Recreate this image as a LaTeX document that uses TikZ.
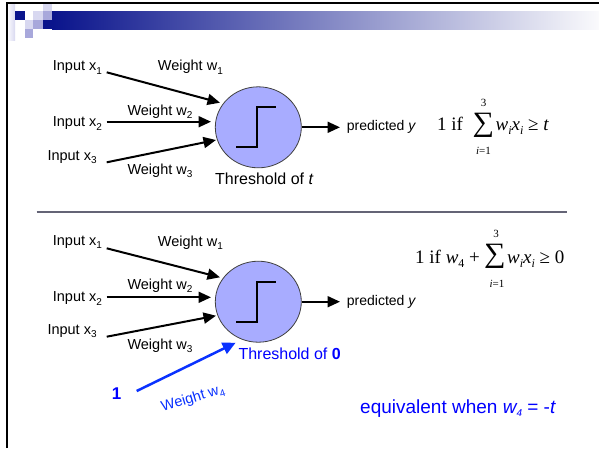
\documentclass[tikz,border=0pt]{standalone}
\usepackage{fontspec}
\setmainfont{Liberation Sans}
\newfontfamily\tnr{Liberation Serif}
\usetikzlibrary{arrows.meta,shapes.geometric}
\definecolor{dkblue}{RGB}{10,20,140}
\definecolor{endbar}{RGB}{250,250,252}
\definecolor{ltsq}{RGB}{216,216,240}
\definecolor{mdsq}{RGB}{168,168,219}
\definecolor{nfill}{RGB}{168,172,255}
\definecolor{txtblue}{RGB}{0,0,255}
\definecolor{arrblue}{RGB}{10,50,255}
\definecolor{sepgray}{RGB}{100,100,118}
\newcommand\sbs[1]{\raisebox{-3.6pt}{\fontsize{10}{10}\selectfont #1}}
\newcommand\msbs[1]{\raisebox{-4pt}{\fontsize{12}{12}\selectfont #1}}
\tikzset{
  lbl/.style={font=\fontsize{14.5}{16}\selectfont, inner sep=0pt, anchor=base west},
  thr/.style={font=\fontsize{16}{18}\selectfont, inner sep=0pt, anchor=base west},
  fml/.style={font=\tnr\fontsize{19}{21}\selectfont, inner sep=0pt, anchor=base west},
  sigma/.style={font=\tnr\fontsize{28}{30}\selectfont, inner sep=0pt, anchor=center},
  lim/.style={font=\tnr\fontsize{11}{12}\selectfont, inner sep=0pt, anchor=center},
  arr/.style={line width=2pt, -{Triangle[length=12.5pt,width=11pt]}},
  barr/.style={line width=2.5pt, draw=arrblue, -{Triangle[length=13pt,width=12pt]}},
  neuron/.style={ellipse, draw=black!75, line width=0.8pt, fill=nfill, minimum width=86pt, minimum height=81pt, inner sep=0pt},
  stepline/.style={line width=2pt},
}
\begin{document}
\begin{tikzpicture}[x=1pt,y=-1pt]
\useasboundingbox (0,0) rectangle (599,448);
\fill[white] (0,0) rectangle (599,448);
% header
\shade[left color=dkblue,right color=endbar] (52,11) rectangle (599,29);
\shade[left color=white,right color=ltsq] (7,4) rectangle (15,40);
\fill[dkblue] (15,11) rectangle (25,20);
\fill[ltsq] (33,11) rectangle (43,20);
\fill[ltsq] (43,4) rectangle (52,11);
\fill[mdsq] (43,11) rectangle (52,20);
\fill[ltsq] (25,20) rectangle (33,29);
\fill[mdsq] (33,20) rectangle (43,29);
\fill[dkblue] (43,20) rectangle (52.5,29);
\fill[mdsq] (25,29) rectangle (33,38);
\draw[line width=1.8pt] (7,448) -- (7,2.7) -- (599,2.7);
% separator
\draw[sepgray, line width=1.5pt] (36.5,212) -- (567,212);

% ---------- top neuron ----------
\node[neuron] (n1) at (258.3,127.3) {};
\draw[stepline] ([shift={(-22.3,20)}]n1.center) -- ([shift={(-1.6,20)}]n1.center)
  -- ([shift={(-1.6,-20.6)}]n1.center) -- ([shift={(17.4,-20.6)}]n1.center);
\node[lbl] (in1) at (52.7,70.7) {Input x\sbs{1}};
\node[lbl] (w1) at (157.7,70.7) {Weight w\sbs{1}};
\node[lbl] (in2) at (52.7,126.7) {Input x\sbs{2}};
\node[lbl] (w2) at (127.3,115) {Weight w\sbs{2}};
\node[lbl] (in3) at (47.3,160) {Input x\sbs{3}};
\node[lbl] (w3) at (127.3,174.3) {Weight w\sbs{3}};
\node[thr] (thr1) at (215,184) {Threshold of \textit{t}};
\node[lbl, font=\fontsize{14}{16}\selectfont] (pred1) at (346.7,130) {predicted \textit{y}};
\coordinate (s1) at (106.7,72.3);  \coordinate (e1) at (220,102.7);
\coordinate (s2) at (106.7,121.7); \coordinate (e2) at (211,121.7);
\coordinate (s3) at (106.7,162.3); \coordinate (e3) at (216,140);
\coordinate (o1) at (340,127.3);
\draw[arr] (s1) -- (e1);
\draw[arr] (s2) -- (e2);
\draw[arr] (s3) -- (e3);
\draw[arr] (n1.east) -- (o1);
% formula top
\node[fml] (fa1) at (437,130) {1 if};
\node[sigma] (sg1) at (483.5,125.5) {\scalebox{1.08}[1]{∑}};
\node[lim] (up1) at (483.5,102.5) {3};
\node[lim] (lo1) at (483.5,151) {\textit{i}=1};
\node[fml] (fb1) at (495.5,130) {\textit{w\msbs{i}x\msbs{i}} ≥ \textit{t}};

% ---------- bottom neuron ----------
\node[neuron] (n2) at (258.3,301.7) {};
\draw[stepline] ([shift={(-22.3,20)}]n2.center) -- ([shift={(-1.6,20)}]n2.center)
  -- ([shift={(-1.6,-20)}]n2.center) -- ([shift={(17.4,-20)}]n2.center);
\node[lbl] (in1b) at (52.7,245) {Input x\sbs{1}};
\node[lbl] (w1b) at (157.7,246) {Weight w\sbs{1}};
\node[lbl] (in2b) at (52.7,301.7) {Input x\sbs{2}};
\node[lbl] (w2b) at (127.3,289) {Weight w\sbs{2}};
\node[lbl] (in3b) at (47.3,334) {Input x\sbs{3}};
\node[lbl] (w3b) at (127.3,349.3) {Weight w\sbs{3}};
\node[thr, text=txtblue] (thr2) at (238.3,359.3) {Threshold of \textbf{0}};
\node[lbl, font=\fontsize{14}{16}\selectfont] (pred2) at (346.7,305) {predicted \textit{y}};
\coordinate (s1b) at (106.7,248.3); \coordinate (e1b) at (220,277.3);
\coordinate (s2b) at (106.7,297.3); \coordinate (e2b) at (211,297.3);
\coordinate (s3b) at (106.7,336.7); \coordinate (e3b) at (216,315.7);
\coordinate (o2) at (340,301.7);
\draw[arr] (s1b) -- (e1b);
\draw[arr] (s2b) -- (e2b);
\draw[arr] (s3b) -- (e3b);
\draw[arr] (n2.east) -- (o2);
% bias input
\node[lbl, font=\fontsize{17}{19}\selectfont\bfseries, text=txtblue] (one) at (111.7,399) {1};
\coordinate (s4) at (136.7,391); \coordinate (e4) at (235.7,342.7);
\draw[barr] (s4) -- (e4);
\node[font=\fontsize{14.5}{16}\selectfont, text=arrblue, inner sep=0pt, rotate=17] (w4) at (193,399) {Weight w\sbs{4}};
% formula bottom
\node[fml] (fa2) at (415,263) {1 if \textit{w}\msbs{4} +};
\node[sigma] (sg2) at (495,256.5) {\scalebox{1.08}[1]{∑}};
\node[lim] (up2) at (496,234) {3};
\node[lim] (lo2) at (497,283.5) {\textit{i}=1};
\node[fml] (fb2) at (507,263) {\textit{w\msbs{i}x\msbs{i}} ≥ 0};
% note
\node[lbl, font=\fontsize{19}{21}\selectfont, text=txtblue] (eq) at (360,413.3) {equivalent when \textit{w\sbs{4}} = -\textit{t}};
\end{tikzpicture}
\end{document}
